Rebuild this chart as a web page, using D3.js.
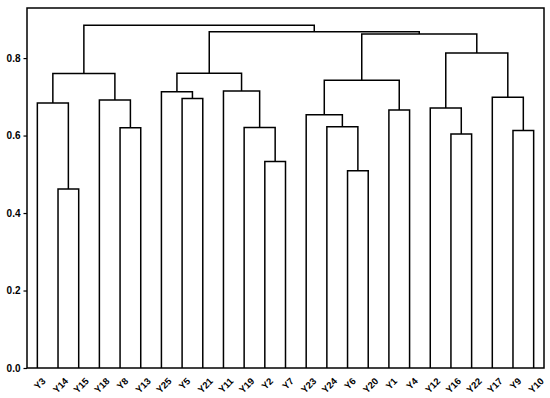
<!DOCTYPE html>
<meta charset="utf-8">
<style>
body { margin: 0; background: #fff; }
text { font-family: "Liberation Sans", Arial, sans-serif; font-weight: bold; fill: #000; }
.links path { fill: none; stroke: #000; stroke-width: 1.5px; }
</style>
<svg width="550" height="398"></svg>
<script src="https://cdn.jsdelivr.net/npm/d3@7"></script>
<script>

// leaves in the order they appear along the x axis
var leaves = ["Y3","Y14","Y15","Y18","Y8","Y13","Y25","Y5","Y21","Y11","Y19","Y2","Y7",
              "Y23","Y24","Y6","Y20","Y1","Y4","Y12","Y16","Y22","Y17","Y9","Y10"];

// linkage: left child, right child (leaf index or 25 + merge index), height
var mergeLeft   = [1, 15, 11, 20, 23, 4, 10, 14, 13, 17, 19, 0, 3, 7, 22, 6, 9, 33, 36, 40, 35, 42, 44, 43];
var mergeRight  = [2, 16, 12, 21, 24, 5, 27, 26, 32, 18, 28, 25, 30, 8, 29, 38, 31, 34, 37, 41, 39, 45, 46, 47];
var mergeHeight = [0.462, 0.509, 0.533, 0.604, 0.613, 0.620, 0.621, 0.623, 0.654, 0.666, 0.671, 0.684,
                   0.692, 0.6955, 0.699, 0.713, 0.715, 0.743, 0.760, 0.761, 0.813, 0.862, 0.868, 0.885];

var yTicks = [0, 0.2, 0.4, 0.6, 0.8];

var svg = d3.select("svg"),
    margin = {left: 27, right: 6, top: 8, bottom: 30},
    width = +svg.attr("width"),
    height = +svg.attr("height");

var n = leaves.length;
var x = d3.scaleLinear().domain([0, n * 10]).range([margin.left, width - margin.right]);
var y = d3.scaleLinear().domain([0, d3.max(mergeHeight) * 1.05]).range([height - margin.bottom, margin.top]);

// position of every node: leaves first, then clusters
var nodeX = leaves.map(function(d, i) { return 5 + 10 * i; });
var nodeY = leaves.map(function() { return 0; });
var links = [];
mergeLeft.forEach(function(l, k) {
  var r = mergeRight[k], h = mergeHeight[k];
  links.push({x1: nodeX[l], y1: nodeY[l], x2: nodeX[r], y2: nodeY[r], h: h});
  nodeX.push((nodeX[l] + nodeX[r]) / 2);
  nodeY.push(h);
});

svg.append("g")
    .attr("class", "links")
  .selectAll("path")
  .data(links)
  .enter().append("path")
    .attr("d", function(d) {
      return "M" + x(d.x1) + "," + y(d.y1) + "V" + y(d.h) + "H" + x(d.x2) + "V" + y(d.y2);
    });

// frame
svg.append("rect")
    .attr("x", x(0)).attr("y", y.range()[1])
    .attr("width", x(n * 10) - x(0)).attr("height", y.range()[0] - y.range()[1])
    .attr("fill", "none").attr("stroke", "#000").attr("stroke-width", 1.5);

// y axis
var yAxis = svg.append("g")
    .attr("transform", "translate(" + x(0) + ",0)")
    .call(d3.axisLeft(y).tickValues(yTicks).tickFormat(d3.format(".1f")).tickSize(3.5).tickPadding(3));
yAxis.select(".domain").remove();
yAxis.selectAll("line").attr("stroke", "#000").attr("stroke-width", 1.2);
yAxis.selectAll("text").style("font-size", "10px").style("font-family", null);

// x labels, rotated 45 degrees
var labelTop = y(0) + 9;
svg.append("g")
  .selectAll("text")
  .data(leaves)
  .enter().append("text")
    .style("font-size", "9.5px")
    .attr("text-anchor", "middle")
    .attr("dy", "0.35em")
    .text(function(d) { return d; })
    .attr("transform", function(d, i) {
      var len = this.getComputedTextLength();
      var cy = labelTop + (len + 7) / (2 * Math.SQRT2);
      return "translate(" + (x(nodeX[i]) + 2.5) + "," + cy + ") rotate(-45)";
    });

</script>
